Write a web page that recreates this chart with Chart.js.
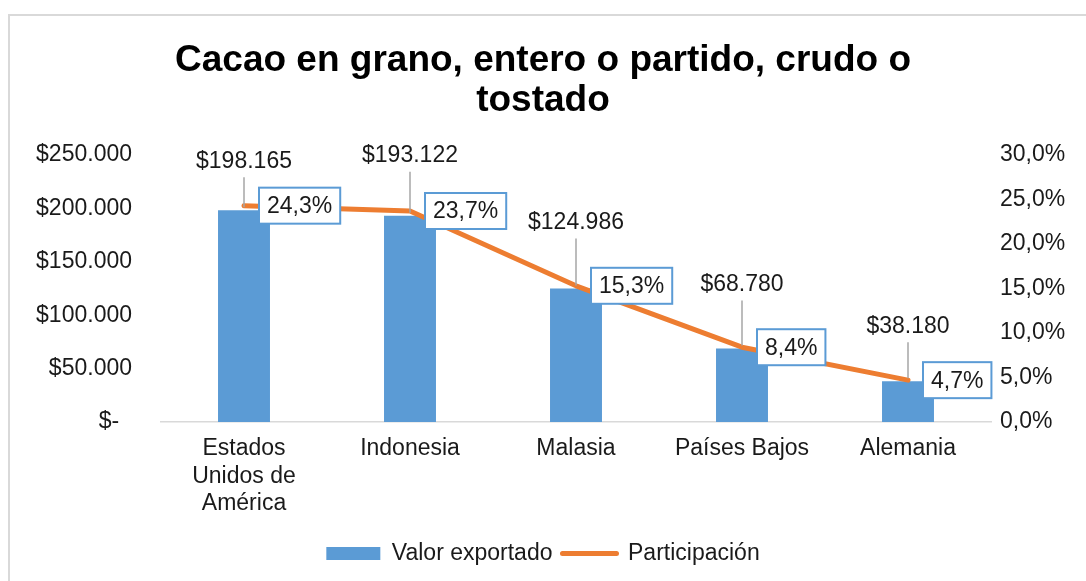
<!DOCTYPE html>
<html>
<head>
<meta charset="utf-8">
<script src="https://cdn.jsdelivr.net/npm/chart.js@4.4.0/dist/chart.umd.min.js"></script>
<style>
  body { margin: 0; background: #fff; }
  #wrap { position: relative; width: 1086px; height: 581px; }
  #frame { position: absolute; left: 8px; top: 14px; right: 0; bottom: 0;
           border-left: 2px solid #d9d9d9; border-top: 2px solid #d9d9d9; }
  canvas { position: absolute; left: 0; top: 0; }
</style>
</head>
<body>
<div id="wrap">
  <div id="frame"></div>
  <canvas id="chart" width="1086" height="581"></canvas>
</div>
<script>
const countries = [['Estados', 'Unidos de', 'América'], 'Indonesia', 'Malasia', 'Países Bajos', 'Alemania'];
const exportValues = [198165, 193122, 124986, 68780, 38180];
const shares = [24.3, 23.7, 15.3, 8.4, 4.7];
const leftTicks = [0, 50000, 100000, 150000, 200000, 250000];
const rightTicks = [0, 5, 10, 15, 20, 25, 30];

// how far each value label sits above its bar (manual placement in the original)
const labelLift = [49, 60, 66, 64, 55];

const blue = '#5B9BD5';
const orange = '#ED7D31';
const textColor = '#1a1a1a';
const FONT = "'Liberation Sans', Arial, sans-serif";
const FS = 23;

function money(v) {
    if (v === 0) return '$-  ';
    return '$' + v.toString().replace(/\B(?=(\d{3})+(?!\d))/g, '.');
}

function pct(v) {
    return v.toFixed(1).replace('.', ',') + '%';
}

const labelsPlugin = {
    id: 'labels',
    afterDatasetsDraw(chart) {
        const c = chart.ctx;
        const bars = chart.getDatasetMeta(0).data;
        const pts = chart.getDatasetMeta(1).data;
        c.save();
        c.font = FS + 'px ' + FONT;
        c.textBaseline = 'middle';

        bars.forEach((bar, i) => {
            const ly = bar.y - labelLift[i];
            c.strokeStyle = '#a6a6a6';
            c.lineWidth = 1.5;
            c.beginPath();
            c.moveTo(bar.x, ly + 16);
            c.lineTo(bar.x, bar.y - 3);
            c.stroke();
            c.fillStyle = textColor;
            c.textAlign = 'center';
            c.fillText(money(exportValues[i]), bar.x, ly);
        });

        pts.forEach((p, i) => {
            const txt = pct(shares[i]);
            const w = c.measureText(txt).width + 16;
            const h = 36;
            const x0 = p.x + 15;
            const y0 = p.y - h / 2;
            c.fillStyle = '#fff';
            c.fillRect(x0, y0, w, h);
            c.strokeStyle = blue;
            c.lineWidth = 2;
            c.strokeRect(x0, y0, w, h);
            c.fillStyle = textColor;
            c.textAlign = 'left';
            c.fillText(txt, x0 + 8, p.y + 1);
        });
        c.restore();
    }
};

new Chart(document.getElementById('chart'), {
    type: 'bar',
    data: {
        labels: countries,
        datasets: [
            {
                label: 'Valor exportado',
                data: exportValues,
                backgroundColor: blue,
                borderWidth: 0,
                categoryPercentage: 1,
                barPercentage: 0.313,
                yAxisID: 'y',
                order: 1
            },
            {
                type: 'line',
                label: 'Participación',
                data: shares,
                borderColor: orange,
                backgroundColor: orange,
                borderWidth: 5,
                borderCapStyle: 'round',
                borderJoinStyle: 'round',
                pointRadius: 0,
                tension: 0,
                yAxisID: 'y1',
                order: 0
            }
        ]
    },
    options: {
        responsive: false,
        animation: false,
        layout: { padding: { left: 0, right: 0, top: 0, bottom: 6 } },
        plugins: {
            tooltip: { enabled: false },
            title: {
                display: true,
                text: ['Cacao en grano, entero o partido, crudo o', 'tostado'],
                color: '#000',
                font: { family: FONT, size: 37, weight: 'bold', lineHeight: 1.08 },
                padding: { top: 41, bottom: 34 }
            },
            legend: {
                display: true,
                position: 'bottom',
                labels: {
                    color: textColor,
                    font: { family: FONT, size: FS, lineHeight: 1.2 },
                    usePointStyle: true,
                    pointStyleWidth: 54,
                    boxHeight: 13,
                    padding: 10,
                    sort: (a, b) => a.datasetIndex - b.datasetIndex,
                    generateLabels(chart) {
                        const items = Chart.defaults.plugins.legend.labels.generateLabels(chart);
                        items.forEach(it => {
                            if (it.datasetIndex === 0) {
                                it.pointStyle = 'rect';
                                it.lineWidth = 0;
                                it.strokeStyle = blue;
                            } else {
                                it.pointStyle = 'line';
                                it.lineWidth = 5;
                                it.strokeStyle = orange;
                                it.lineCap = 'round';
                            }
                        });
                        return items;
                    }
                }
            }
        },
        scales: {
            x: {
                grid: { display: false, drawTicks: false },
                border: { display: true, color: '#d9d9d9', width: 1.5 },
                ticks: {
                    color: textColor,
                    font: { family: FONT, size: FS, lineHeight: 1.2 },
                    padding: 13,
                    maxRotation: 0,
                    autoSkip: false
                },
                afterFit(scale) { scale.height = 110; }
            },
            y: {
                position: 'left',
                min: 0,
                max: 250000,
                grid: { display: false, drawTicks: false },
                border: { display: false },
                afterBuildTicks(scale) { scale.ticks = leftTicks.map(v => ({ value: v })); },
                ticks: {
                    color: textColor,
                    font: { family: FONT, size: FS },
                    padding: 29,
                    callback: v => money(v)
                },
                afterFit(scale) { scale.width = 161; }
            },
            y1: {
                position: 'right',
                min: 0,
                max: 30,
                grid: { display: false, drawTicks: false },
                border: { display: false },
                afterBuildTicks(scale) { scale.ticks = rightTicks.map(v => ({ value: v })); },
                ticks: {
                    color: textColor,
                    font: { family: FONT, size: FS },
                    padding: 9,
                    callback: v => pct(v)
                },
                afterFit(scale) { scale.width = 95; }
            }
        }
    },
    plugins: [labelsPlugin]
});
</script>
</body>
</html>
